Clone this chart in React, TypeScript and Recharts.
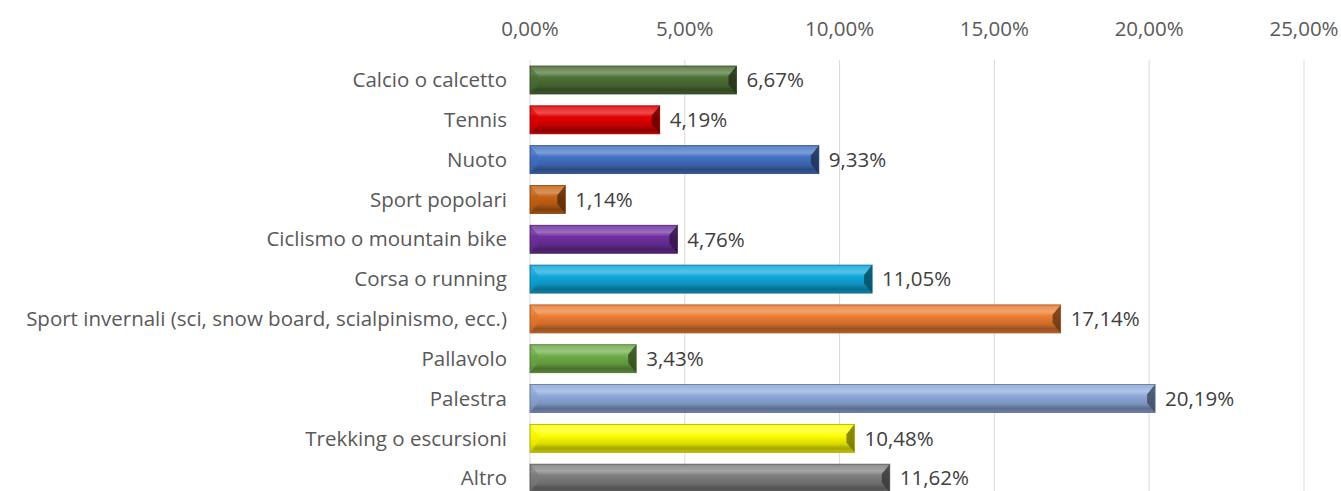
import React from 'react';
import { BarChart, Bar, XAxis, YAxis, CartesianGrid, LabelList } from 'recharts';

// ── Data ──────────────────────────────────────────────────────────────────────

const CATEGORIES = [
  'Calcio o calcetto',
  'Tennis',
  'Nuoto',
  'Sport popolari',
  'Ciclismo o mountain bike',
  'Corsa o running',
  'Sport invernali (sci, snow board, scialpinismo, ecc.)',
  'Pallavolo',
  'Palestra',
  'Trekking o escursioni',
  'Altro',
];

const VALUES = [6.67, 4.19, 9.33, 1.14, 4.76, 11.05, 17.14, 3.43, 20.19, 10.48, 11.62];

const BAR_COLORS = [
  '#4E7136', '#E40000', '#4472C4', '#C86414', '#7030A0', '#0FA8DC',
  '#ED7D31', '#70AD47', '#8EA9DB', '#FFFF00', '#7F7F7F',
];

const X_TICKS = [0, 5, 10, 15, 20, 25];

const data = CATEGORIES.map((name, i) => ({ name, value: VALUES[i], idx: i }));

// ── Helpers ───────────────────────────────────────────────────────────────────

const fmt = (v: number) => `${v.toFixed(2).replace('.', ',')}%`;

const mix = (hex: string, target: number, amt: number) => {
  const n = parseInt(hex.slice(1), 16);
  const ch = [(n >> 16) & 255, (n >> 8) & 255, n & 255].map((c) =>
    Math.round(c + (target - c) * amt),
  );
  return `rgb(${ch[0]},${ch[1]},${ch[2]})`;
};
const lighten = (hex: string, a: number) => mix(hex, 255, a);
const darken = (hex: string, a: number) => mix(hex, 0, a);

// bevelled bar, like the Office "bevel" effect
const BevelBar = (props: any) => {
  const { x, y, width, height, payload } = props;
  if (!width || width <= 0) return null;
  const c = BAR_COLORS[payload.idx];
  const id = `g${payload.idx}`;
  const d = Math.min(8, width / 2);
  return (
    <g>
      <defs>
        <linearGradient id={id} x1="0" y1="0" x2="0" y2="1">
          <stop offset="0" stopColor={lighten(c, 0.1)} />
          <stop offset="0.25" stopColor={lighten(c, 0.3)} />
          <stop offset="0.4" stopColor={c} />
          <stop offset="0.7" stopColor={darken(c, 0.15)} />
          <stop offset="0.85" stopColor={darken(c, 0.35)} />
          <stop offset="1" stopColor={darken(c, 0.25)} />
        </linearGradient>
      </defs>
      <rect x={x} y={y} width={width} height={height} fill={`url(#${id})`} />
      <polygon
        points={`${x},${y} ${x + d},${y + height * 0.35} ${x + d},${y + height * 0.65} ${x},${y + height}`}
        fill={darken(c, 0.05)}
        opacity={0.6}
      />
      <polygon
        points={`${x + width},${y} ${x + width - d},${y + height * 0.35} ${x + width - d},${y + height * 0.65} ${x + width},${y + height}`}
        fill={darken(c, 0.55)}
        opacity={0.85}
      />
      <rect
        x={x}
        y={y}
        width={width}
        height={height}
        fill="none"
        stroke={darken(c, 0.35)}
        strokeWidth={0.8}
      />
    </g>
  );
};

// ── Chart ─────────────────────────────────────────────────────────────────────

export default function App() {
  return (
    <div
      style={{
        position: 'fixed',
        top: 0,
        left: 0,
        width: 1341,
        height: 491,
        overflow: 'hidden',
        background: '#fff',
      }}
    >
      <BarChart
        width={1341}
        height={500}
        data={data}
        layout="vertical"
        barSize={28}
        margin={{ top: 0, right: 37, left: 0, bottom: 2 }}
        style={{ fontFamily: '"Open Sans", sans-serif', overflow: 'visible' }}
      >
        <CartesianGrid horizontal={false} stroke="#d9d9d9" />
        <XAxis
          type="number"
          orientation="top"
          domain={[0, 25]}
          ticks={X_TICKS}
          tickFormatter={fmt}
          axisLine={false}
          tickLine={false}
          tickSize={0}
          tickMargin={24}
          height={60}
          tick={{ fill: '#595959', fontSize: 20.5 }}
          interval={0}
        />
        <YAxis
          type="category"
          dataKey="name"
          width={530}
          axisLine={false}
          tickLine={false}
          tickSize={0}
          tickMargin={23}
          tick={{ fill: '#595959', fontSize: 20.5 }}
          interval={0}
        />
        <Bar dataKey="value" shape={BevelBar} isAnimationActive={false}>
          <LabelList
            dataKey="value"
            position="right"
            offset={10}
            formatter={(v: any) => fmt(Number(v))}
            style={{ fill: '#404040', fontSize: 20.5 }}
          />
        </Bar>
      </BarChart>
    </div>
  );
}
